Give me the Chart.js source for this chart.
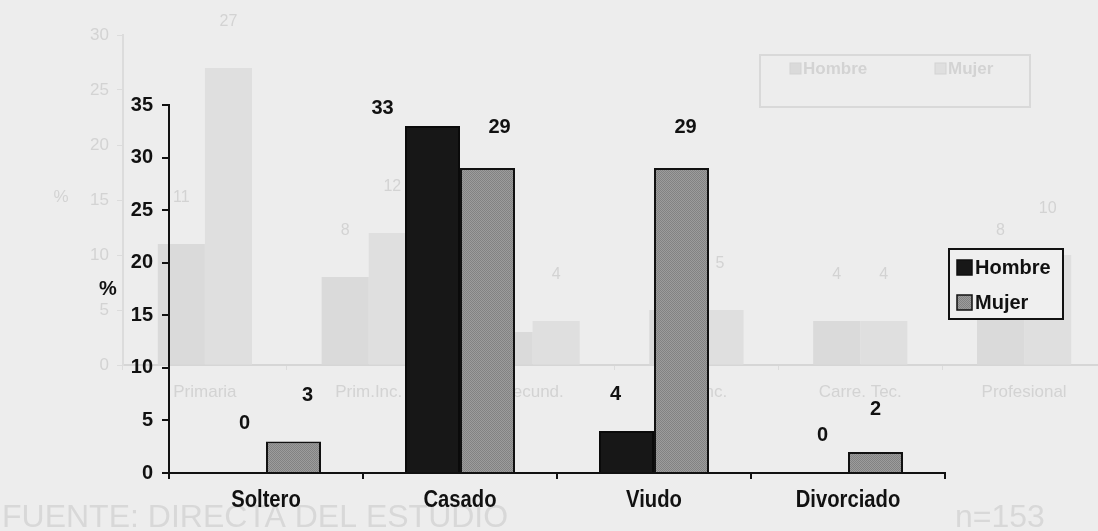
<!DOCTYPE html>
<html>
<head>
<meta charset="utf-8">
<script src="https://cdn.jsdelivr.net/npm/chart.js@4.4.1/dist/chart.umd.min.js"></script>
<style>
  html, body { margin: 0; padding: 0; background: #ededed; overflow: hidden; }
  #wrap { position: relative; width: 1098px; height: 531px; overflow: hidden; background: #ededed; }
  #fondo { position: absolute; left: 0; top: 0; }
  #principal { position: absolute; left: 0; top: 0; }
</style>
</head>
<body>
<div id="wrap">
  <canvas id="fondo" width="1110" height="531"></canvas>
  <canvas id="principal" width="1098" height="531"></canvas>
</div>
<script>
// Estado civil por sexo (%)
const categorias = ['Soltero', 'Casado', 'Viudo', 'Divorciado'];
const hombre = [0, 33, 4, 0];
const mujer = [3, 29, 29, 2];
const yMax = 35;
const yPaso = 5;

// Escolaridad por sexo (%) -- gráfica tenue del fondo
const nivelCategorias = ['Primaria', 'Prim.Inc.', 'Secund.', 'Sec.Inc.', 'Carre. Tec.', 'Profesional'];
const nivelHombre = [11, 8, 3, 5, 4, 8];
const nivelMujer = [27, 12, 4, 5, 4, 10];
const nivelYMax = 30;
const nivelYPaso = 5;

const fuente = 'FUENTE: DIRECTA DEL ESTUDIO';
const muestra = 'n=153';

// Desplazamiento de cada etiqueta de valor respecto a su barra [dx, dy]
const ajusteEtiquetaHombre = [[6, -50], [-50, -18], [-11, -36], [2, -38]];
const ajusteEtiquetaMujer = [[14, -46], [12, -41], [4, -41], [0, -42]];

const SANS = "'Liberation Sans', Arial, sans-serif";

// Trama punteada del relleno gris
function tramaGris() {
  const c = document.createElement('canvas');
  c.width = 2; c.height = 2;
  const g = c.getContext('2d');
  g.fillStyle = '#828282'; g.fillRect(0, 0, 2, 2);
  g.fillStyle = '#9c9c9c'; g.fillRect(1, 0, 1, 1); g.fillRect(0, 1, 1, 1);
  return g.createPattern(c, 'repeat');
}

/* ---------- gráfica tenue de fondo ---------- */
const TENUE = '#d3d3d3';
const fondoPlugin = {
  id: 'fondoTextos',
  afterDatasetsDraw(chart) {
    const ctx = chart.ctx;
    const a = chart.chartArea;
    ctx.save();
    ctx.fillStyle = TENUE;
    ctx.textAlign = 'center';
    ctx.textBaseline = 'middle';
    ctx.font = '16px ' + SANS;
    chart.data.datasets.forEach((ds, i) => {
      chart.getDatasetMeta(i).data.forEach((bar, j) => {
        ctx.fillText(String(ds.data[j]), bar.x, bar.y - 46);
      });
    });
    // eje y: "%"
    ctx.font = '17px ' + SANS;
    ctx.fillText('%', a.left - 62, (a.top + a.bottom) / 2 - 3);
    // leyenda
    ctx.strokeStyle = '#d9d9d9';
    ctx.lineWidth = 2;
    ctx.strokeRect(760, 55, 270, 52);
    ctx.font = 'bold 17px ' + SANS;
    ctx.textAlign = 'left';
    const items = [[790, 0], [935, 1]];
    items.forEach(([x, k]) => {
      ctx.fillStyle = chart.data.datasets[k].backgroundColor;
      ctx.fillRect(x, 63, 11, 11);
      ctx.strokeStyle = TENUE; ctx.lineWidth = 1;
      ctx.strokeRect(x, 63, 11, 11);
      ctx.fillStyle = TENUE;
      ctx.fillText(chart.data.datasets[k].label, x + 13, 69);
    });
    // pie de la figura
    ctx.font = '32px ' + SANS;
    ctx.fillStyle = '#d8d8d8';
    ctx.textBaseline = 'alphabetic';
    ctx.fillText(fuente, 2, 527);
    ctx.fillText(muestra, 955, 527);
    ctx.restore();
  }
};

new Chart(document.getElementById('fondo'), {
  type: 'bar',
  data: {
    labels: nivelCategorias,
    datasets: [
      { label: 'Hombre', data: nivelHombre, backgroundColor: '#dadada', borderWidth: 0,
        categoryPercentage: 0.575, barPercentage: 1.0 },
      { label: 'Mujer', data: nivelMujer, backgroundColor: '#dfdfdf', borderWidth: 0,
        categoryPercentage: 0.575, barPercentage: 1.0 }
    ]
  },
  options: {
    responsive: false,
    animation: false,
    events: [],
    layout: { padding: { top: 35, right: 4, left: 0, bottom: 0 } },
    plugins: { legend: { display: false }, tooltip: { enabled: false } },
    scales: {
      x: {
        afterFit(s) { s.height = 166; },
        grid: { drawOnChartArea: false, drawTicks: true, tickLength: 5, color: '#dcdcdc', lineWidth: 1 },
        border: { display: true, color: '#d6d6d6', width: 2 },
        ticks: { color: TENUE, font: { family: SANS, size: 17 }, padding: 12, maxRotation: 0, autoSkip: false }
      },
      y: {
        min: 0, max: nivelYMax,
        afterFit(s) { s.width = 123; },
        grid: { drawOnChartArea: false, drawTicks: true, tickLength: 6, color: '#dcdcdc', lineWidth: 1 },
        border: { display: true, color: '#dcdcdc', width: 2 },
        ticks: { stepSize: nivelYPaso, color: TENUE, font: { family: SANS, size: 17 }, padding: 8 }
      }
    }
  },
  plugins: [fondoPlugin]
});

/* ---------- gráfica principal ---------- */
const etiquetasPlugin = {
  id: 'etiquetasValor',
  afterDatasetsDraw(chart) {
    const ctx = chart.ctx;
    const a = chart.chartArea;
    const ajustes = [ajusteEtiquetaHombre, ajusteEtiquetaMujer];
    ctx.save();
    ctx.fillStyle = '#111';
    ctx.textAlign = 'center';
    ctx.textBaseline = 'middle';
    ctx.font = 'bold 20px ' + SANS;
    chart.data.datasets.forEach((ds, i) => {
      chart.getDatasetMeta(i).data.forEach((bar, j) => {
        const [dx, dy] = ajustes[i][j];
        ctx.fillText(String(ds.data[j]), bar.x + dx, bar.y + dy);
      });
    });
    // título del eje y
    ctx.fillText('%', a.left - 61, (a.top + a.bottom) / 2);

    // categorías del eje x en letra condensada
    const sx = chart.scales.x;
    ctx.font = 'bold 23px ' + SANS;
    chart.data.labels.forEach((lab, i) => {
      ctx.save();
      ctx.translate(sx.getPixelForValue(i), a.bottom + 28);
      ctx.scale(0.88, 1);
      ctx.fillText(lab, 0, 0);
      ctx.restore();
    });

    // leyenda enmarcada
    ctx.font = 'bold 20px ' + SANS;
    const lx = a.right + 4, ly = a.top + 144, lw = 114, lh = 70;
    ctx.fillStyle = '#efefef';
    ctx.fillRect(lx, ly, lw, lh);
    ctx.strokeStyle = '#111';
    ctx.lineWidth = 2;
    ctx.strokeRect(lx, ly, lw, lh);
    ctx.textAlign = 'left';
    chart.data.datasets.forEach((ds, i) => {
      const cy = ly + 18 + i * 35;
      ctx.fillStyle = ds.backgroundColor;
      ctx.fillRect(lx + 8, cy - 7, 15, 15);
      ctx.strokeStyle = '#111';
      ctx.lineWidth = 1.5;
      ctx.strokeRect(lx + 8, cy - 7, 15, 15);
      ctx.fillStyle = '#111';
      ctx.fillText(ds.label, lx + 26, cy + 1);
    });
    ctx.restore();
  }
};

new Chart(document.getElementById('principal'), {
  type: 'bar',
  data: {
    labels: categorias,
    datasets: [
      { label: 'Hombre', data: hombre, backgroundColor: '#171717', borderColor: '#0a0a0a',
        borderWidth: 2, categoryPercentage: 0.567, barPercentage: 1.0 },
      { label: 'Mujer', data: mujer, backgroundColor: tramaGris(), borderColor: '#111',
        borderWidth: 2, categoryPercentage: 0.567, barPercentage: 1.0 }
    ]
  },
  options: {
    responsive: false,
    animation: false,
    events: [],
    layout: { padding: { top: 105, right: 153, left: 0, bottom: 0 } },
    plugins: { legend: { display: false }, tooltip: { enabled: false } },
    scales: {
      x: {
        afterFit(s) { s.height = 58; },
        grid: { drawOnChartArea: false, drawTicks: true, tickLength: 6, color: '#111', lineWidth: 2 },
        border: { display: true, color: '#111', width: 2 },
        ticks: { display: false }
      },
      y: {
        min: 0, max: yMax,
        afterFit(s) { s.width = 169; },
        grid: { drawOnChartArea: false, drawTicks: true, tickLength: 7, color: '#111', lineWidth: 2 },
        border: { display: true, color: '#111', width: 2 },
        ticks: { stepSize: yPaso, color: '#111', font: { family: SANS, size: 20, weight: 'bold' }, padding: 9 }
      }
    }
  },
  plugins: [etiquetasPlugin]
});
</script>
</body>
</html>
